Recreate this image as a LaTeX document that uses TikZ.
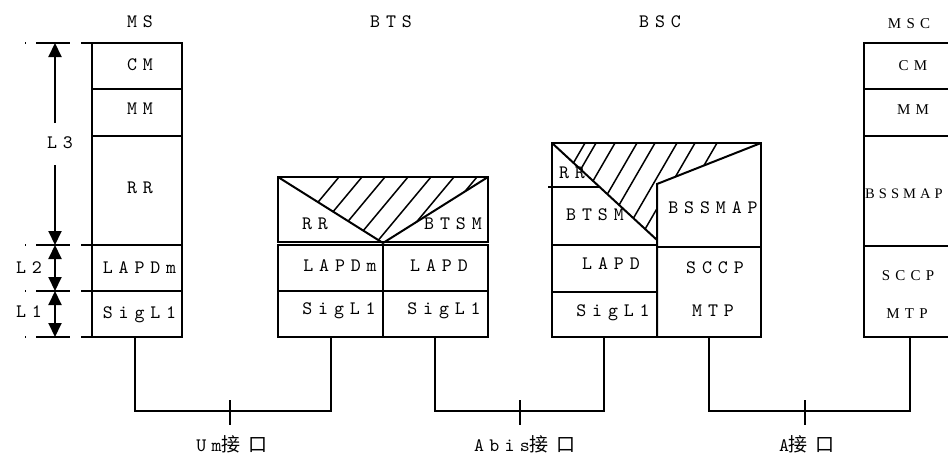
\documentclass[tikz,border=0pt]{standalone}
\usepackage{fontspec}
\newfontfamily\cjkfont{Noto Sans CJK SC}
\newfontfamily\mscfont{Liberation Serif}[LetterSpace=35]
\newfontfamily\mscnarrow{Liberation Serif}[LetterSpace=28]
\newfontfamily\labmono{lmmono10-regular}[Extension=.otf, LetterSpace=31]
\newfontfamily\ifacemono{lmmono10-regular}[Extension=.otf, LetterSpace=28]
\usetikzlibrary{arrows.meta}
\newcommand\monolab{\fontsize{19}{22}\labmono}
\newcommand\ifacefont{\fontsize{19}{22}\ifacemono}
\newcommand\cjklab{\fontsize{19}{22}\cjkfont}
\tikzset{
  box/.style={line width=2pt},
  hatch/.style={line width=1.5pt},
  lbl/.style={font=\monolab, inner sep=0pt, text height=11.5pt, text depth=0pt},
  mlbl/.style={font=\fontsize{15}{18}\mscfont, inner sep=0pt, text height=10pt, text depth=0pt},
  iface/.style={inner sep=0pt, anchor=base},
  wire/.style={line width=2pt},
  dimarrow/.style={line width=2pt, -{Triangle[width=13pt,length=14pt]}},
  ddimarrow/.style={line width=2pt, {Triangle[width=13pt,length=14pt]}-{Triangle[width=13pt,length=14pt]}},
  guide/.style={line width=2pt, dash pattern=on 1pt off 10pt on 34pt off 11pt on 40pt},
}
\begin{document}
\begin{tikzpicture}[x=1pt,y=-1pt]
\useasboundingbox (0,0) rectangle (948,455);
\clip (0,0) rectangle (948,455);

% ---------- titles
\node[lbl] (tms)  at (140,22) {MS};
\node[lbl] (tbts) at (391,22) {BTS};
\node[lbl] (tbsc) at (660,22) {BSC};
\node[mlbl] (tmsc) at (909,23) {MSC};

% ---------- MS stack
\draw[box] (92,43) rectangle (182,337);
\foreach \y in {89,136,245,291} \draw[box] (92,\y) -- (182,\y);
\node[lbl] (mscm) at (140,65) {CM};
\node[lbl] (msmm) at (140,109) {MM};
\node[lbl] (msrr) at (140,188) {RR};
\node[lbl] (mslapdm) at (139.5,268) {LAPDm};
\node[lbl] (mssig) at (139.5,313) {SigL1};

% ---------- layer guides
\foreach \y in {43,245,291,337} \draw[guide] (25,\y) -- (92,\y);
\coordinate (d0) at (55,43);
\coordinate (d1) at (55,245);
\coordinate (d2) at (55,291);
\coordinate (d3) at (55,337);
\coordinate (l3u) at (55,123);
\coordinate (l3d) at (55,165);
\draw[dimarrow] (l3u) -- (d0);
\draw[dimarrow] (l3d) -- (d1);
\draw[ddimarrow] (d1) -- (d2);
\draw[ddimarrow] (d2) -- (d3);
\node[lbl] (L3) at (60,143) {L3};
\node[lbl] (L2) at (29,268) {L2};
\node[lbl] (L1) at (29,312) {L1};

% ---------- BTS stack
\begin{scope}
  \clip (278,177) -- (488,177) -- (383,243) -- cycle;
  \foreach \x in {339,362,...,477} \draw[hatch] (\x,177) -- ++(-100,120);
\end{scope}
\draw[box] (278,177) rectangle (488,241.5);
\draw[box] (278,177) -- (383,243) -- (488,177);
\draw[box] (278,245) rectangle (488,337);
\draw[box] (383,245) -- (383,337);
\draw[box] (278,291) -- (488,291);
\node[lbl] (btsrr) at (315,224) {RR};
\node[lbl] (btsbtsm) at (453,224) {BTSM};
\node[lbl] (btslapdm) at (340,266) {LAPDm};
\node[lbl] (btslapd) at (439,266) {LAPD};
\node[lbl] (btssig1) at (339,309) {SigL1};
\node[lbl] (btssig2) at (444,309) {SigL1};

% ---------- BSC stack
\begin{scope}
  \clip (552,143) -- (761,143) -- (657,184) -- (657,240) -- cycle;
  \foreach \x in {585,596,615,637,655,677,695,717} \draw[hatch] (\x,143) -- ++(-80,138);
\end{scope}
\draw[box] (552,143) rectangle (761,337);
\draw[box] (552,143) -- (657,240);
\draw[box] (761,143) -- (657,184) -- (657,337);
\draw[box] (548,187) -- (600,187);
\draw[box] (552,245) -- (657,245);
\draw[box] (657,247) -- (761,247);
\draw[box] (552,292) -- (657,292);
\node[lbl] (bscrr) at (572,173) {RR};
\node[lbl] (bscbtsm) at (595,215) {BTSM};
\node[lbl] (bscbssmap) at (713,208) {BSSMAP};
\node[lbl] (bsclapd) at (611,264) {LAPD};
\node[lbl] (bscsccp) at (715,268) {SCCP};
\node[lbl] (bscsig) at (613,311) {SigL1};
\node[lbl] (bscmtp) at (713,311) {MTP};

% ---------- MSC stack
\draw[box] (864,43) rectangle (956,337);
\foreach \y in {89,136,246} \draw[box] (864,\y) -- (956,\y);
\node[mlbl] (msccm) at (913,65) {CM};
\node[mlbl] (mscmm) at (913,109) {MM};
\node[mlbl, font=\fontsize{14.5}{18}\mscnarrow, anchor=west] (mscbssmap) at (865,193) {BSSMAP};
\node[mlbl] (mscsccp) at (908,275) {SCCP};
\node[mlbl] (mscmtp) at (907,313) {MTP};

% ---------- interfaces
\coordinate (msb) at (135,337);
\coordinate (btsl) at (331,337);
\coordinate (btsr) at (435,337);
\coordinate (bscl) at (604,337);
\coordinate (bscr) at (709,337);
\coordinate (mscb) at (910,337);
\coordinate (um) at (230,411);
\coordinate (abis) at (520,411);
\coordinate (aif) at (805,411);
\draw[wire] (msb) |- (um) -| (btsl);
\draw[wire] (btsr) |- (abis) -| (bscl);
\draw[wire] (bscr) |- (aif) -| (mscb);
\foreach \c in {um,abis,aif} \draw[wire] ([yshift=11pt]\c) -- ([yshift=-14pt]\c);

\node[iface] (umlab) at (232,451) {\ifacefont Um\cjklab 接\hspace{8pt}口};
\node[iface] (abislab) at (525,451) {\ifacefont Abis\cjklab 接\hspace{8pt}口};
\node[iface] (alab) at (807,451) {\ifacefont A\cjklab 接\hspace{8pt}口};
\end{tikzpicture}
\end{document}
